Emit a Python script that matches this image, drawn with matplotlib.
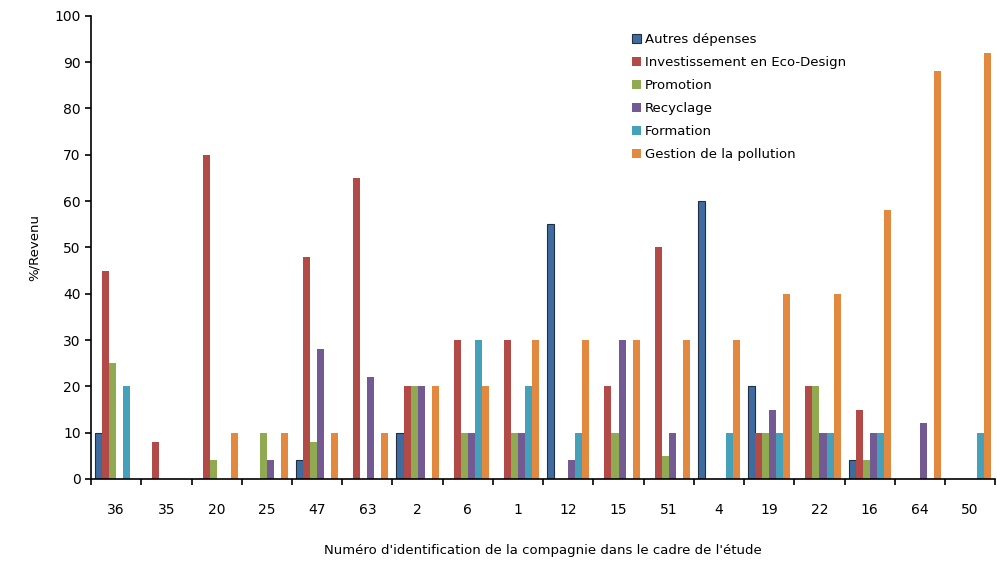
import numpy as np
import matplotlib.pyplot as plt

# Données
companies = ['36', '35', '20', '25', '47', '63', '2', '6', '1', '12',
             '15', '51', '4', '19', '22', '16', '64', '50']
autres    = [10, 0, 0, 0, 4, 0, 10, 0, 0, 55, 0, 0, 60, 20, 0, 4, 0, 0]
invest    = [45, 8, 70, 0, 48, 65, 20, 30, 30, 0, 20, 50, 0, 10, 20, 15, 0, 0]
promotion = [25, 0, 4, 10, 8, 0, 20, 10, 10, 0, 10, 5, 0, 10, 20, 4, 0, 0]
recyclage = [0, 0, 0, 4, 28, 22, 20, 10, 10, 4, 30, 10, 0, 15, 10, 10, 12, 0]
formation = [20, 0, 0, 0, 0, 0, 0, 30, 20, 10, 0, 0, 10, 10, 10, 10, 0, 10]
gestion   = [0, 0, 10, 10, 10, 10, 20, 20, 30, 30, 30, 30, 30, 40, 40, 58, 88, 92]

series = [autres, invest, promotion, recyclage, formation, gestion]
labels = ['Autres dépenses', 'Investissement en Eco-Design', 'Promotion',
          'Recyclage', 'Formation', 'Gestion de la pollution']
colors = ['#3F6C9E', '#B24A48', '#8FAA50', '#735A92', '#45A0B9', '#E3893F']
edges = ['#1F2F45', 'none', 'none', 'none', 'none', 'none']

fig = plt.figure(figsize=(9.97, 5.87), dpi=100)
ax = fig.add_axes([0.0913, 0.184, 0.907, 0.789])

x = np.arange(len(companies))
w = 0.14
for i, vals in enumerate(series):
    ax.bar(x + (i - 2.5) * w, vals, w, color=colors[i], edgecolor=edges[i],
           linewidth=0.8, label=labels[i])

ax.set_xlim(-0.5, len(companies) - 0.5)
ax.set_ylim(0, 100)
ax.set_yticks(range(0, 101, 10))
ax.set_xticks(x)
ax.set_xticklabels(companies, fontsize=10)
ax.set_xticks(np.arange(-0.5, len(companies), 1), minor=True)
ax.tick_params(axis='x', which='major', length=0, pad=17)
ax.tick_params(axis='x', which='minor', length=4, width=1.2)
ax.tick_params(axis='y', labelsize=10, length=4, width=1.2)

for s in ['top', 'right']:
    ax.spines[s].set_visible(False)
ax.spines['left'].set_linewidth(1.2)
ax.spines['bottom'].set_linewidth(1.2)

ax.set_ylabel('%/Revenu', fontsize=9.5, labelpad=10)
ax.set_xlabel("Numéro d'identification de la compagnie dans le cadre de l'étude",
              fontsize=9.5, labelpad=20)

ax.legend(loc='upper left', bbox_to_anchor=(0.585, 0.988), frameon=False,
          fontsize=9.5, handlelength=0.7, handleheight=0.7, handletextpad=0.3,
          labelspacing=0.75)

fig.savefig('out.png', dpi=100)
